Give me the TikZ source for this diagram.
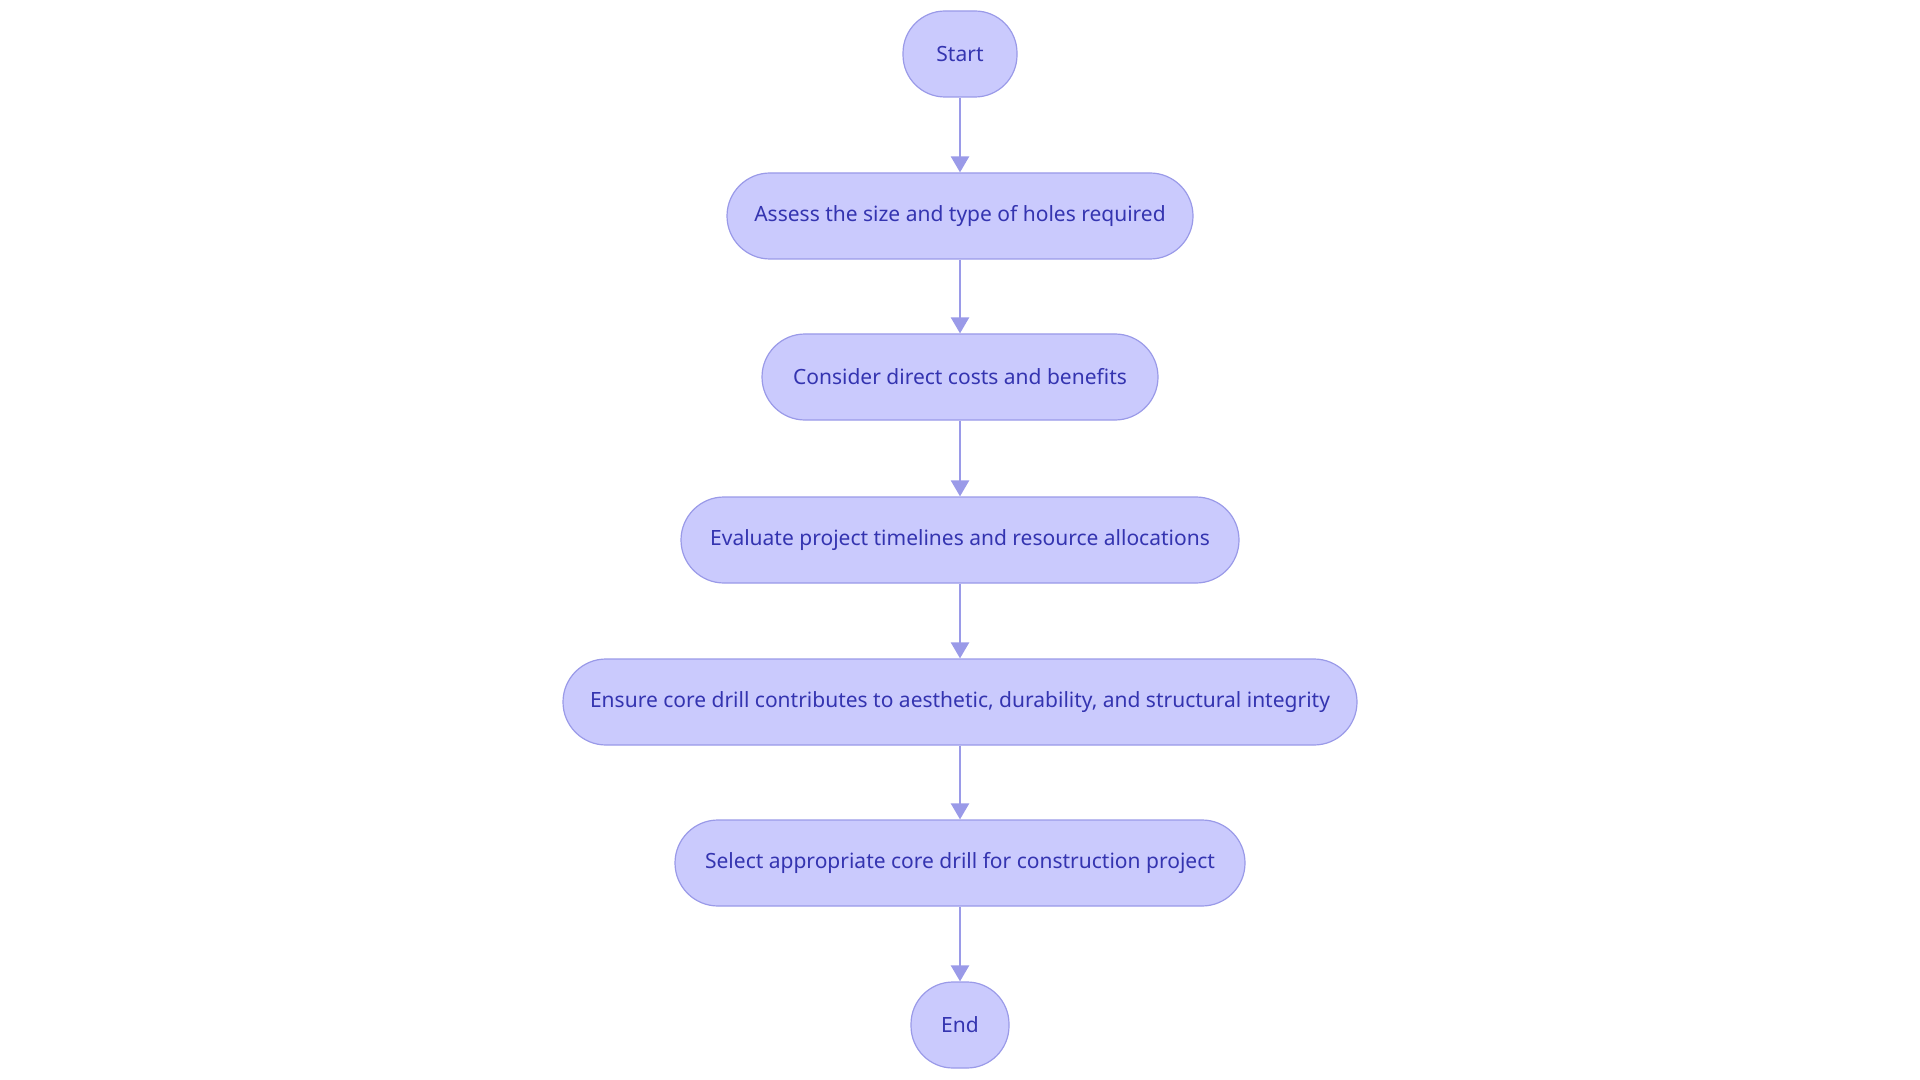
\documentclass[tikz,border=0pt]{standalone}
\usepackage{fontspec}
\setmainfont{Noto Sans}
\usetikzlibrary{arrows.meta}
\definecolor{nfill}{HTML}{CACAFD}
\definecolor{nline}{HTML}{9A9AE8}
\definecolor{ntext}{HTML}{3434B0}
\begin{document}
\begin{tikzpicture}[x=0.5pt,y=-0.5pt,
  box/.style={draw=nline,fill=nfill,line width=0.6pt,text=ntext,font=\fontsize{10.5}{12}\selectfont,
    rounded corners=21.5pt,minimum height=43pt,inner sep=0pt},
  arr/.style={draw=nline,line width=1.2pt,-{Triangle[width=9pt,length=8pt]}}]
\useasboundingbox (0,0) rectangle (1920,1080);
\node[box,minimum width=57pt,rounded corners=21pt] (s) at (960,54) {Start};
\node[box,minimum width=233pt] (a) at (960,216) {Assess the size and type of holes required};
\node[box,minimum width=198pt] (c) at (960,377) {Consider direct costs and benefits};
\node[box,minimum width=279pt] (e) at (960,540) {Evaluate project timelines and resource allocations};
\node[box,minimum width=397pt] (n) at (960,702) {Ensure core drill contributes to aesthetic, durability, and structural integrity};
\node[box,minimum width=285pt] (l) at (960,863) {Select appropriate core drill for construction project};
\node[box,minimum width=49pt,rounded corners=21pt] (d) at (960,1025) {End};
\draw[arr] (s) -- (a);
\draw[arr] (a) -- (c);
\draw[arr] (c) -- (e);
\draw[arr] (e) -- (n);
\draw[arr] (n) -- (l);
\draw[arr] (l) -- (d);
\end{tikzpicture}
\end{document}
